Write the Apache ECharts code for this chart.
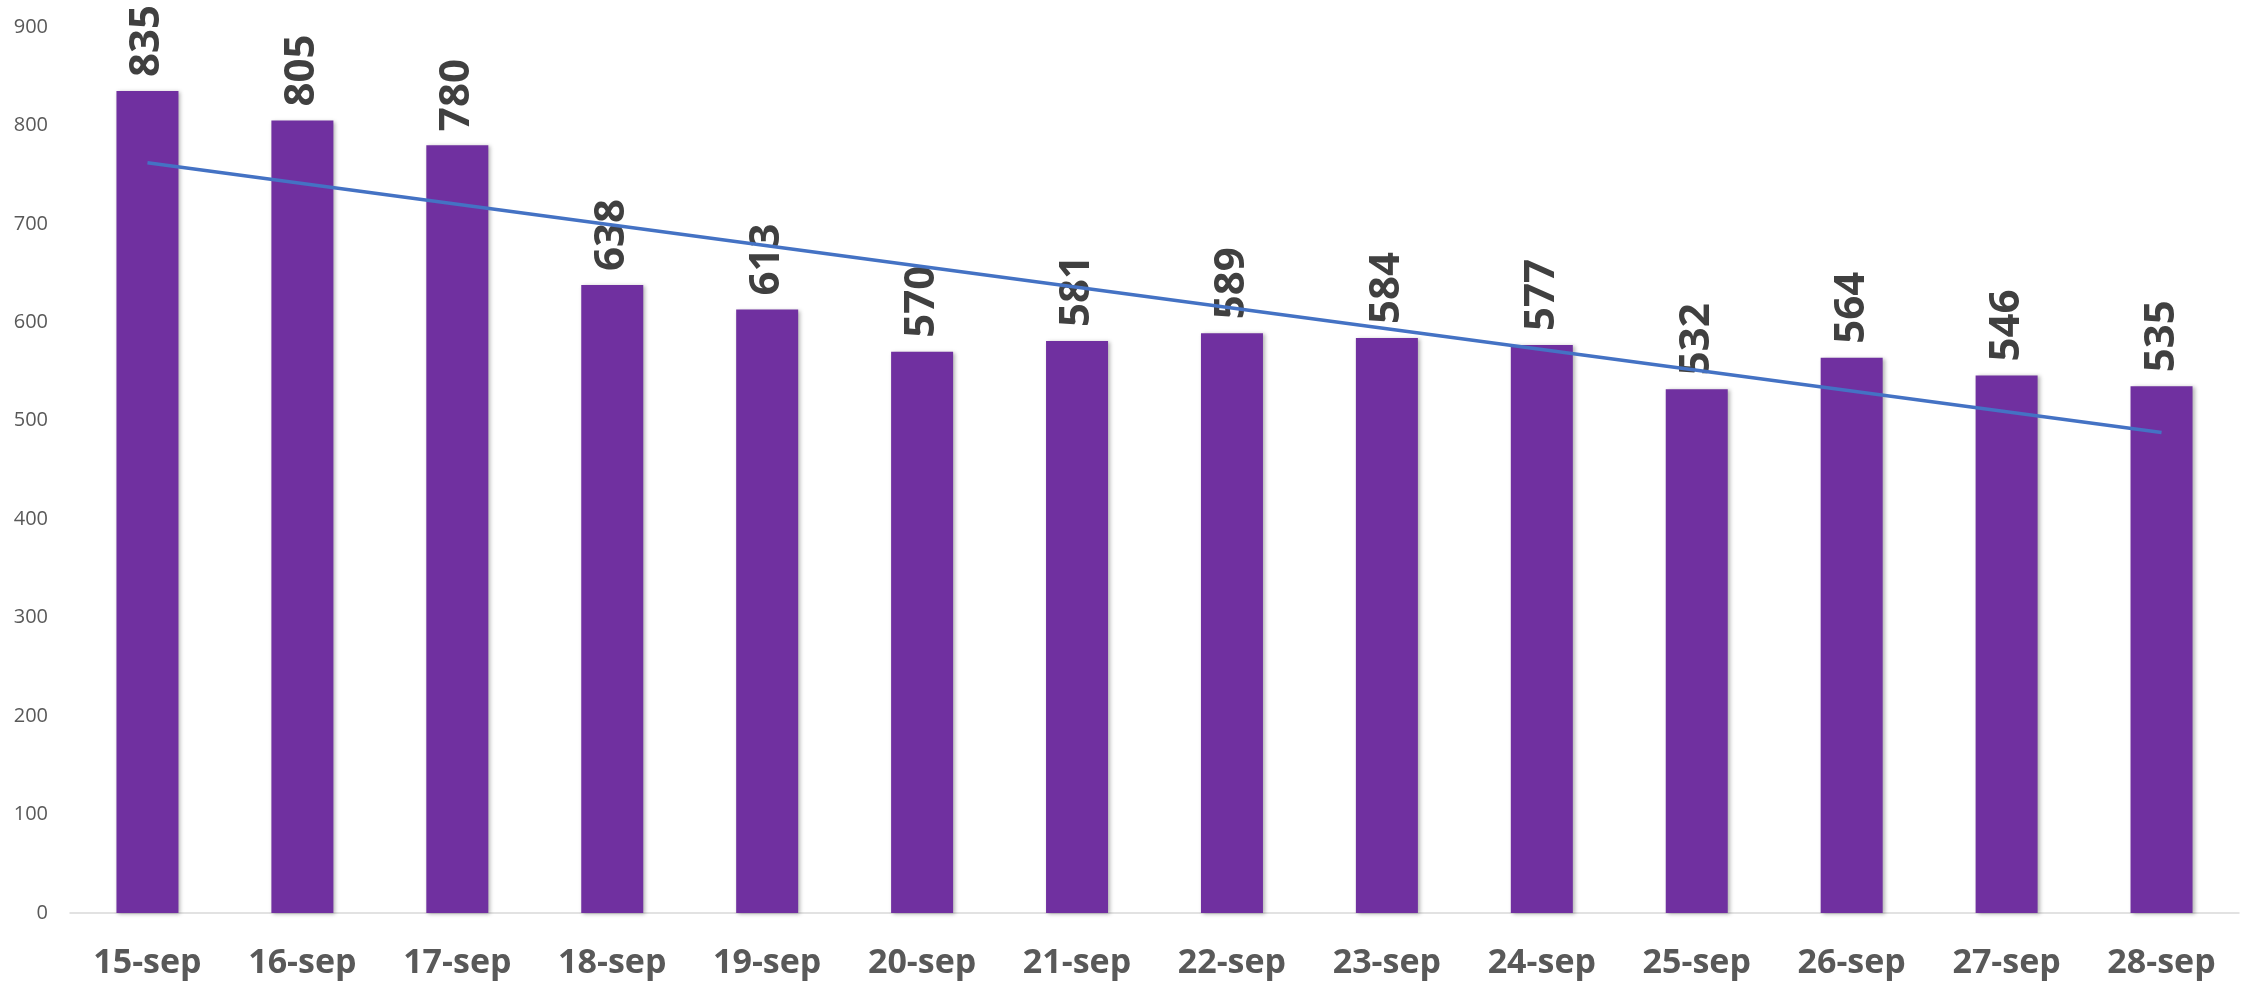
<!DOCTYPE html>
<html>
<head>
<meta charset="utf-8">
<script src="https://cdn.jsdelivr.net/npm/echarts@6/dist/echarts.min.js"></script>
<style>
html,body{margin:0;padding:0;background:#fff;}
#chart{width:2252px;height:983px;}
</style>
</head>
<body>
<div id="chart"></div>
<script>
var categories = ['15-sep','16-sep','17-sep','18-sep','19-sep','20-sep','21-sep','22-sep','23-sep','24-sep','25-sep','26-sep','27-sep','28-sep'];
var values = [835, 805, 780, 638, 613, 570, 581, 589, 584, 577, 532, 564, 546, 535];
var trendStart = 762;
var trendEnd = 488;
var yTicks = [0, 100, 200, 300, 400, 500, 600, 700, 800, 900];

var trend = categories.map(function (c, i) {
  if (i === 0) return trendStart;
  if (i === categories.length - 1) return trendEnd;
  return '-';
});

var chart = echarts.init(document.getElementById('chart'));
chart.setOption({
  animation: false,
  backgroundColor: '#ffffff',
  grid: { left: 70, right: 13, top: 27, bottom: 70, containLabel: false },
  xAxis: {
    type: 'category',
    data: categories,
    axisLine: { show: true, lineStyle: { color: '#d9d9d9', width: 1.5 } },
    axisTick: { show: false },
    axisLabel: {
      color: '#595959', fontFamily: 'Open Sans', fontWeight: 'bold', fontSize: 34, margin: 33
    }
  },
  yAxis: {
    type: 'value',
    min: yTicks[0],
    max: yTicks[yTicks.length - 1],
    interval: 100,
    axisLine: { show: false },
    axisTick: { show: false },
    splitLine: { show: false },
    axisLabel: { color: '#595959', fontFamily: 'Open Sans', fontSize: 20, margin: 22 }
  },
  series: [
    {
      type: 'bar',
      data: values,
      barWidth: 62,
      itemStyle: {
        color: '#7030A0',
        shadowColor: 'rgba(0,0,0,0.3)', shadowBlur: 4, shadowOffsetX: 2, shadowOffsetY: 1
      },
      label: {
        show: true,
        position: 'top',
        rotate: 90,
        align: 'left',
        verticalAlign: 'middle',
        distance: 14,
        color: '#404040',
        fontFamily: 'Open Sans',
        fontWeight: 'bold',
        fontSize: 42
      }
    },
    {
      type: 'line',
      data: trend,
      connectNulls: true,
      symbol: 'none',
      lineStyle: { color: '#4472C4', width: 3.5 },
      z: 5
    }
  ]
});
</script>
</body>
</html>
